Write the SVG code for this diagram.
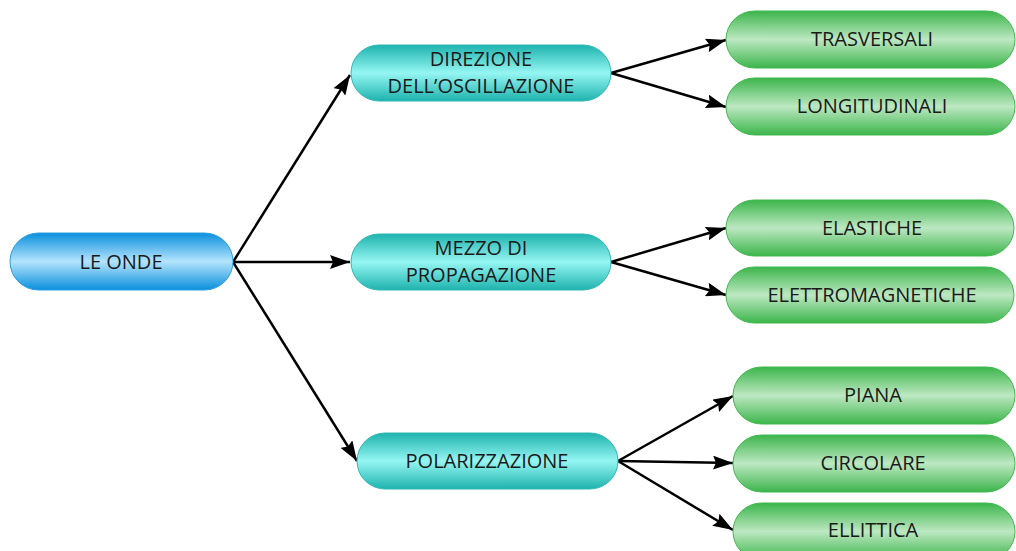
<svg xmlns="http://www.w3.org/2000/svg" width="1016" height="551" viewBox="0 0 1016 551">
  <defs>
    <linearGradient id="gBlue" x1="0" y1="0" x2="0" y2="1">
      <stop offset="0" stop-color="#0a8fdc"/>
      <stop offset="0.5" stop-color="#b4e4fc"/>
      <stop offset="1" stop-color="#0a8fdc"/>
    </linearGradient>
    <linearGradient id="gCyan" x1="0" y1="0" x2="0" y2="1">
      <stop offset="0" stop-color="#1eb3ae"/>
      <stop offset="0.5" stop-color="#95f6f2"/>
      <stop offset="1" stop-color="#1eb3ae"/>
    </linearGradient>
    <linearGradient id="gGreen" x1="0" y1="0" x2="0" y2="1">
      <stop offset="0" stop-color="#3cb54b"/>
      <stop offset="0.5" stop-color="#bde8c2"/>
      <stop offset="1" stop-color="#3cb54b"/>
    </linearGradient>
    <!-- slightly notched arrowhead -->
    <marker id="arrow" viewBox="0 0 20 14" refX="20" refY="7" markerWidth="8" markerHeight="5.6" markerUnits="strokeWidth" orient="auto">
      <path d="M0,0 L20,7 L0,14 L3,7 z" fill="#000"/>
    </marker>
  </defs>
  <style>
    .blue { fill: url(#gBlue); stroke: #2f9fe2; stroke-width: 1; }
    .cyan { fill: url(#gCyan); stroke: #2fb8b3; stroke-width: 1; }
    .green { fill: url(#gGreen); stroke: #40b94f; stroke-width: 1; }
    .label { font-family: "Open Sans", "Liberation Sans", sans-serif; font-size: 20px; fill: #1a1a1a; text-anchor: middle; dominant-baseline: central; }
    .link { stroke: #000; stroke-width: 2.5; fill: none; marker-end: url(#arrow); }
  </style>
  <rect width="1016" height="551" fill="#fff"/>

  <g id="connectors">
    <line class="link" x1="233" y1="262" x2="350" y2="75"/>
    <line class="link" x1="233" y1="262" x2="350" y2="262"/>
    <line class="link" x1="233" y1="262" x2="357" y2="461"/>
    <line class="link" x1="611" y1="73" x2="726" y2="40"/>
    <line class="link" x1="611" y1="73" x2="726" y2="107"/>
    <line class="link" x1="611" y1="262" x2="726" y2="228"/>
    <line class="link" x1="611" y1="262" x2="726" y2="295"/>
    <line class="link" x1="618" y1="461" x2="733" y2="396"/>
    <line class="link" x1="618" y1="461" x2="733" y2="463"/>
    <line class="link" x1="618" y1="461" x2="733" y2="530"/>
  </g>

  <g id="le-onde">
    <rect class="blue" x="10" y="233" width="223" height="57" rx="28.5"/>
    <text class="label" x="121" y="261">LE ONDE</text>
  </g>

  <g id="direzione">
    <rect class="cyan" x="351" y="45" width="260" height="56" rx="28"/>
    <text class="label" x="481" y="58">DIREZIONE</text>
    <text class="label" x="481" y="85">DELL’OSCILLAZIONE</text>
  </g>

  <g id="mezzo">
    <rect class="cyan" x="351" y="234" width="260" height="56" rx="28"/>
    <text class="label" x="481" y="247">MEZZO DI</text>
    <text class="label" x="481" y="274">PROPAGAZIONE</text>
  </g>

  <g id="polarizzazione">
    <rect class="cyan" x="357" y="433" width="261" height="56" rx="28"/>
    <text class="label" x="487" y="460">POLARIZZAZIONE</text>
  </g>

  <g id="trasversali">
    <rect class="green" x="726" y="11" width="289" height="57" rx="28.5"/>
    <text class="label" x="872" y="38">TRASVERSALI</text>
  </g>

  <g id="longitudinali">
    <rect class="green" x="726" y="78" width="289" height="57" rx="28.5"/>
    <text class="label" x="872" y="105">LONGITUDINALI</text>
  </g>

  <g id="elastiche">
    <rect class="green" x="726" y="200" width="288" height="56" rx="28"/>
    <text class="label" x="872" y="227">ELASTICHE</text>
  </g>

  <g id="elettromagnetiche">
    <rect class="green" x="726" y="267" width="288" height="56" rx="28"/>
    <text class="label" x="872" y="294">ELETTROMAGNETICHE</text>
  </g>

  <g id="piana">
    <rect class="green" x="733" y="367" width="282" height="57" rx="28.5"/>
    <text class="label" x="873" y="394">PIANA</text>
  </g>

  <g id="circolare">
    <rect class="green" x="733" y="435" width="282" height="57" rx="28.5"/>
    <text class="label" x="873" y="462">CIRCOLARE</text>
  </g>

  <g id="ellittica">
    <rect class="green" x="733" y="503" width="282" height="57" rx="28.5"/>
    <text class="label" x="873" y="529">ELLITTICA</text>
  </g>
</svg>
